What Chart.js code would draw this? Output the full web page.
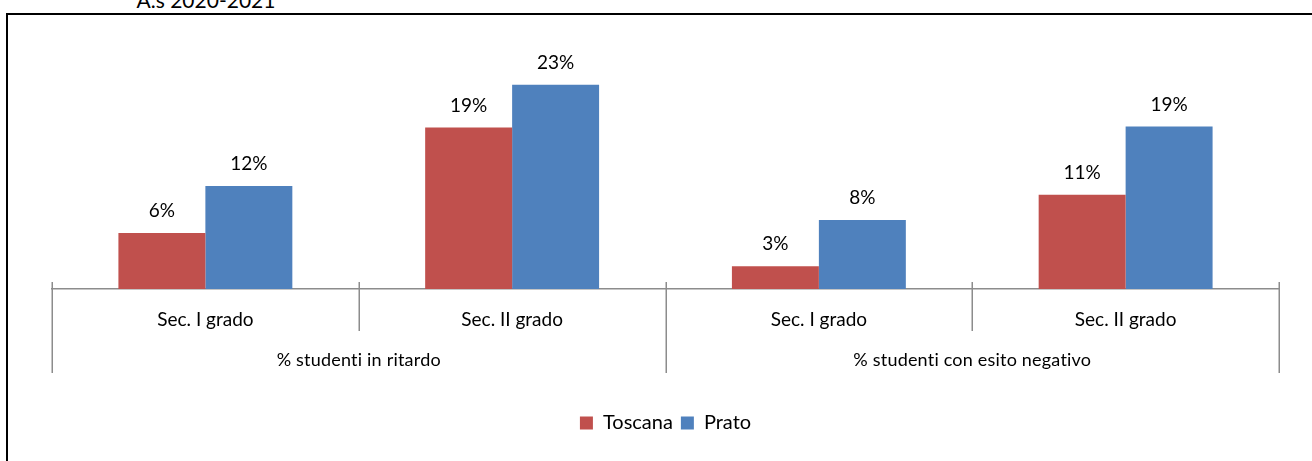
<!DOCTYPE html>
<html>
<head>
<meta charset="utf-8">
<script src="https://cdn.jsdelivr.net/npm/chart.js@4"></script>
<style>
  html, body { margin: 0; padding: 0; background: #fff; overflow: hidden; }
  #wrap { position: relative; width: 1312px; height: 461px; }
  #frame { position: absolute; left: 6px; top: 13px; right: -10px; bottom: -10px; border: 2px solid #000; }
  #title { position: absolute; left: 0; top: -11px; width: 412px; text-align: center; font: 21px Lato, sans-serif; line-height: 22px; color: #000; }
  #Chart { position: absolute; left: 0; top: 0; }
</style>
</head>
<body>
<div id="wrap">
  <div id="frame"></div>
  <div id="title">A.s 2020-2021</div>
  <canvas id="Chart" width="1312" height="461"></canvas>
</div>
<script>
/* chart values (percent) */
const subCategories = ['Sec. I grado', 'Sec. II grado', 'Sec. I grado', 'Sec. II grado']
const groups = ['% studenti in ritardo', '% studenti con esito negativo']
const groupSizes = [2, 2]
const toscana = [6.4, 18.5, 2.6, 10.8]
const prato = [11.8, 23.4, 7.9, 18.6]

const fontFamily = 'Lato, sans-serif'
const lineColor = '#8c8c8c'

/* value labels above the bars */
const barLabels = {
	id: 'barLabels',
	afterDatasetsDraw(chart) {
		const ctx = chart.ctx
		ctx.save()
		ctx.font = `19px ${fontFamily}`
		ctx.fillStyle = '#000'
		ctx.textAlign = 'center'
		ctx.textBaseline = 'middle'
		chart.data.datasets.forEach((ds, i) => {
			chart.getDatasetMeta(i).data.forEach((bar, j) => {
				ctx.fillText(`${Math.round(ds.data[j])}%`, bar.x, bar.y - 22)
			})
		})
		ctx.restore()
	}
}

/* separators and group labels under the category axis */
const groupAxis = {
	id: 'groupAxis',
	afterDraw(chart) {
		const ctx = chart.ctx
		const xs = chart.scales.x
		const axisY = xs.top
		const outer = [0]
		groupSizes.forEach((n) => outer.push(outer[outer.length - 1] + n))
		ctx.save()
		ctx.strokeStyle = lineColor
		ctx.lineWidth = 1.5
		for (let i = 0; i <= subCategories.length; i++) {
			const x = Math.round(xs.getPixelForValue(i - 0.5)) + 0.25
			const isOuter = outer.includes(i)
			ctx.beginPath()
			ctx.moveTo(x, axisY - 7)
			ctx.lineTo(x, axisY + (isOuter ? 84 : 42))
			ctx.stroke()
		}
		ctx.font = `18px ${fontFamily}`
		ctx.letterSpacing = '0.2px' // no "ti" ligature
		ctx.fillStyle = '#000'
		ctx.textAlign = 'center'
		ctx.textBaseline = 'middle'
		groups.forEach((g, k) => {
			const x0 = xs.getPixelForValue(outer[k] - 0.5)
			const x1 = xs.getPixelForValue(outer[k + 1] - 0.5)
			ctx.fillText(g, (x0 + x1) / 2, axisY + 71)
		})
		ctx.restore()
	}
}

new Chart('Chart', {
	type: 'bar',
	data: {
		labels: subCategories,
		datasets: [
			{ label: 'Toscana', data: toscana, backgroundColor: '#c0504d', barPercentage: 1, categoryPercentage: 0.567 },
			{ label: 'Prato', data: prato, backgroundColor: '#4f81bd', barPercentage: 1, categoryPercentage: 0.567 }
		]
	},
	options: {
		responsive: false,
		animation: false,
		layout: { padding: { left: 52, right: 33, top: 20, bottom: 18 } },
		scales: {
			x: {
				grid: { display: false, drawTicks: false },
				border: { display: true, color: lineColor, width: 1.5 },
				ticks: { color: '#000', font: { family: fontFamily, size: 19 }, padding: 19 },
				afterFit: (axis) => { axis.height = 116 }
			},
			y: { display: false, min: 0, max: 30.8 }
		},
		plugins: {
			legend: {
				position: 'bottom',
				labels: { color: '#000', font: { family: fontFamily, size: 20 }, boxWidth: 13, boxHeight: 13, padding: 8 }
			},
			tooltip: { enabled: false }
		}
	},
	plugins: [barLabels, groupAxis]
})
</script>
</body>
</html>
